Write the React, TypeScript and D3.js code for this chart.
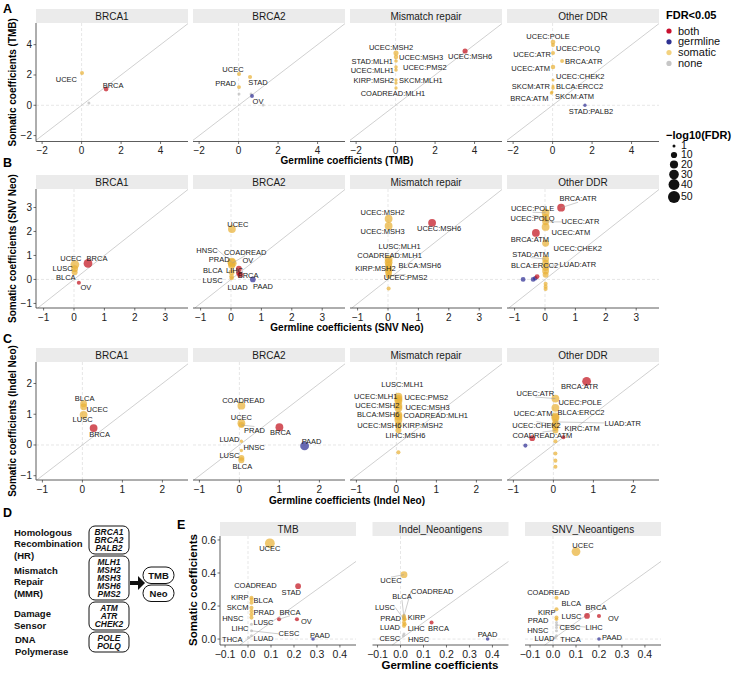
import React from 'react'
import * as d3 from 'd3'

// label, germline coefficient, somatic coefficient, -log10(FDR), FDR<0.05 class
type Sig = 'b' | 'g' | 's' | 'n'
type Pt = [string, number, number, number, Sig]

// ---------------- data ----------------
const facetNames = ['BRCA1', 'BRCA2', 'Mismatch repair', 'Other DDR']
const eNames = ['TMB', 'Indel_Neoantigens', 'SNV_Neoantigens']

const tmbBRCA1: Pt[] = [
  ['', 0.37, 0.15, 1, 'n'],
  ['UCEC', 0.02, 2.13, 3, 's'],
  ['BRCA', 1.24, 1.07, 5, 'b']
]
const tmbBRCA2: Pt[] = [
  ['', 0.02, 0.74, 1, 'n'],
  ['', 0.63, 0.74, 1, 'n'],
  ['', 1.24, 0.02, 1, 'n'],
  ['UCEC', 0.02, 2.06, 3, 's'],
  ['STAD', 0.58, 1.87, 3, 's'],
  ['PRAD', 0.02, 1.2, 2.5, 's'],
  ['OV', 0.68, 0.61, 2.5, 'g']
]
const tmbMMR: Pt[] = [
  ['UCEC:MSH2', 0.02, 3.45, 6, 's'],
  ['UCEC:MSH3', 0.02, 3.18, 4, 's'],
  ['STAD:MLH1', 0.02, 2.92, 2, 's'],
  ['UCEC:PMS2', 0.02, 2.52, 2, 's'],
  ['UCEC:MLH1', 0.02, 2.33, 2, 's'],
  ['KIRP:MSH2', 0.02, 1.67, 1.5, 's'],
  ['SKCM:MLH1', 0.02, 1.47, 1.5, 's'],
  ['COADREAD:MLH1', 0.02, 1.14, 1.5, 's'],
  ['UCEC:MSH6', 3.52, 3.58, 6, 'b']
]
const tmbOther: Pt[] = [
  ['UCEC:POLE', 0.02, 4.17, 5, 's'],
  ['UCEC:POLQ', 0.02, 3.97, 3, 's'],
  ['UCEC:ATR', 0.02, 3.45, 3, 's'],
  ['BRCA:ATR', 0.48, 2.92, 2.5, 's'],
  ['UCEC:ATM', 0.02, 2.52, 4, 's'],
  ['UCEC:CHEK2', 0.02, 1.67, 1, 's'],
  ['SKCM:ATR', 0.02, 1.27, 1, 's'],
  ['BLCA:ERCC2', 0.02, 1.14, 2, 's'],
  ['SKCM:ATM', -0.03, 0.88, 1, 's'],
  ['BRCA:ATM', -0.06, 0.81, 1.5, 's'],
  ['STAD:PALB2', 1.64, 0.0, 1.5, 'g']
]

const snvBRCA1: Pt[] = [
  ['UCEC', 0.03, 0.62, 24, 's'],
  ['BRCA', 0.46, 0.67, 24, 'b'],
  ['LUSC', 0.02, 0.45, 13, 's'],
  ['BLCA', 0.02, 0.3, 9, 's'],
  ['OV', 0.16, -0.14, 3, 'b']
]
const snvBRCA2: Pt[] = [
  ['UCEC', 0.03, 2.1, 18, 's'],
  ['HNSC', 0.02, 0.73, 20, 's'],
  ['COADREAD', 0.04, 0.68, 24, 's'],
  ['PRAD', 0.02, 0.58, 13, 's'],
  ['OV', 0.26, 0.45, 8, 'b'],
  ['BLCA', 0.02, 0.3, 9, 's'],
  ['LIHC', 0.25, 0.25, 5, 'b'],
  ['BRCA', 0.3, 0.2, 8, 'b'],
  ['LUSC', 0.02, 0.12, 5, 's'],
  ['LUAD', 0.02, 0.05, 3, 's'],
  ['PAAD', 0.72, 0.0, 8, 'g']
]
const snvMMR: Pt[] = [
  ['UCEC:MSH2', 0.02, 2.53, 18, 's'],
  ['UCEC:MSH3', 0.02, 2.23, 18, 's'],
  ['UCEC:MSH6', 1.45, 2.36, 18, 'b'],
  ['LUSC:MLH1', 0.02, 0.85, 18, 's'],
  ['COADREAD:MLH1', 0.02, 0.72, 18, 's'],
  ['BLCA:MSH6', 0.02, 0.6, 13, 's'],
  ['KIRP:MSH2', 0.02, 0.48, 13, 's'],
  ['', 0.02, 0.38, 13, 's'],
  ['', 0.02, 0.28, 13, 's'],
  ['UCEC:PMS2', 0.02, 0.15, 9, 's'],
  ['', 0.02, -0.38, 3, 's']
]
const snvOther: Pt[] = [
  ['BRCA:ATR', 0.53, 2.99, 18, 'b'],
  ['UCEC:POLE', 0.02, 2.78, 18, 's'],
  ['UCEC:POLQ', 0.02, 2.57, 18, 's'],
  ['UCEC:ATR', 0.02, 2.4, 13, 's'],
  ['UCEC:ATM', 0.02, 2.19, 18, 's'],
  ['BRCA:ATM', -0.3, 1.94, 18, 'b'],
  ['UCEC:CHEK2', 0.02, 1.51, 13, 's'],
  ['STAD:ATM', 0.02, 0.85, 13, 's'],
  ['BLCA:ERCC2', 0.02, 0.68, 13, 's'],
  ['LUAD:ATR', 0.02, 0.5, 13, 's'],
  ['', 0.02, 0.35, 13, 's'],
  ['', 0.02, 0.2, 9, 's'],
  ['', -0.72, 0.0, 5, 'g'],
  ['', -0.39, 0.0, 5, 'g'],
  ['', -0.32, 0.05, 4, 'g'],
  ['', -0.26, 0.12, 5, 'b'],
  ['', 0.02, -0.18, 3, 's'],
  ['', 0.02, -0.3, 3, 's'],
  ['', 0.02, -0.4, 3, 's']
]

const indelBRCA1: Pt[] = [
  ['BLCA', 0.03, 1.34, 13, 's'],
  ['UCEC', 0.03, 1.24, 13, 's'],
  ['LUSC', 0.03, 0.98, 18, 's'],
  ['BRCA', 0.28, 0.55, 18, 'b']
]
const indelBRCA2: Pt[] = [
  ['COADREAD', 0.05, 1.28, 18, 's'],
  ['UCEC', 0.05, 0.71, 18, 's'],
  ['PRAD', 0.05, 0.65, 9, 's'],
  ['BRCA', 1.0, 0.58, 18, 'b'],
  ['LUAD', 0.05, 0.12, 1.5, 's'],
  ['HNSC', 0.05, -0.18, 1.5, 's'],
  ['PAAD', 1.63, -0.03, 24, 'g'],
  ['LUSC', 0.05, -0.42, 9, 's'],
  ['BLCA', 0.05, -0.5, 9, 's']
]
const indelMMR: Pt[] = [
  ['LUSC:MLH1', 0.05, 1.57, 18, 's'],
  ['UCEC:MLH1', 0.05, 1.5, 18, 's'],
  ['UCEC:PMS2', 0.05, 1.43, 18, 's'],
  ['UCEC:MSH2', 0.05, 1.28, 18, 's'],
  ['UCEC:MSH3', 0.05, 1.2, 18, 's'],
  ['BLCA:MSH6', 0.05, 0.98, 18, 's'],
  ['COADREAD:MLH1', 0.05, 0.92, 18, 's'],
  ['UCEC:MSH6', 0.05, 0.82, 18, 's'],
  ['KIRP:MSH2', 0.05, 0.65, 13, 's'],
  ['LIHC:MSH6', 0.05, 0.48, 9, 's'],
  ['', 0.05, -0.24, 3, 's']
]
const indelOther: Pt[] = [
  ['BRCA:ATR', 0.83, 2.07, 24, 'b'],
  ['UCEC:ATR', 0.05, 1.51, 18, 's'],
  ['UCEC:POLE', 0.05, 1.21, 18, 's'],
  ['BLCA:ERCC2', 0.05, 0.93, 18, 's'],
  ['UCEC:ATM', 0.05, 0.88, 18, 's'],
  ['LUAD:ATR', 0.05, 0.75, 9, 's'],
  ['UCEC:CHEK2', 0.05, 0.65, 18, 's'],
  ['KIRC:ATM', 0.05, 0.55, 9, 's'],
  ['COADREAD:ATM', 0.05, 0.47, 9, 's'],
  ['', -0.53, 0.22, 8, 'b'],
  ['', 0.25, 0.25, 3, 'b'],
  ['', -0.7, -0.02, 3, 'g'],
  ['', 0.05, 0.12, 3, 's'],
  ['', 0.05, -0.28, 3, 's'],
  ['', 0.05, -0.51, 3, 's'],
  ['', 0.05, -0.71, 3, 's']
]

const eTMB: Pt[] = [
  ['UCEC', 0.095, 0.58, 31, 's'],
  ['STAD', 0.218, 0.32, 8, 'b'],
  ['COADREAD', 0.015, 0.25, 3, 's'],
  ['KIRP', 0.015, 0.24, 3, 's'],
  ['BLCA', 0.015, 0.22, 3, 's'],
  ['SKCM', 0.015, 0.19, 3, 's'],
  ['PRAD', 0.015, 0.17, 3, 's'],
  ['HNSC', 0.015, 0.15, 3, 's'],
  ['LUSC', 0.015, 0.13, 3, 's'],
  ['LIHC', 0.015, 0.09, 1, 'n'],
  ['CESC', 0.015, 0.05, 1, 'n'],
  ['THCA', 0.002, 0.01, 1, 'n'],
  ['LUAD', 0.015, 0.02, 1, 'n'],
  ['BRCA', 0.135, 0.12, 3, 'b'],
  ['OV', 0.213, 0.12, 3, 'b'],
  ['PAAD', 0.283, 0.0, 2, 'g']
]
const eIndel: Pt[] = [
  ['UCEC', 0.015, 0.39, 13, 's'],
  ['COADREAD', 0.015, 0.14, 3, 's'],
  ['BLCA', 0.015, 0.13, 3, 's'],
  ['LUSC', 0.015, 0.12, 3, 's'],
  ['KIRP', 0.018, 0.12, 3, 's'],
  ['PRAD', 0.015, 0.1, 3, 's'],
  ['LIHC', 0.018, 0.09, 3, 's'],
  ['LUAD', 0.015, 0.08, 3, 's'],
  ['HNSC', 0.015, 0.03, 1, 'n'],
  ['CESC', 0.012, 0.02, 1, 'n'],
  ['BRCA', 0.135, 0.1, 3, 'b'],
  ['PAAD', 0.379, 0.0, 2, 'g']
]
const eSNV: Pt[] = [
  ['UCEC', 0.1, 0.53, 24, 's'],
  ['COADREAD', 0.015, 0.25, 3, 's'],
  ['BLCA', 0.015, 0.18, 3, 's'],
  ['KIRP', 0.015, 0.13, 3, 's'],
  ['LUSC', 0.015, 0.12, 2, 's'],
  ['PRAD', 0.015, 0.1, 1, 'n'],
  ['LIHC', 0.015, 0.085, 1, 'n'],
  ['CESC', 0.015, 0.07, 1, 'n'],
  ['HNSC', 0.015, 0.05, 1, 'n'],
  ['LUAD', 0.015, 0.02, 1, 'n'],
  ['THCA', 0.01, 0.01, 1, 'n'],
  ['BRCA', 0.148, 0.14, 8, 'b'],
  ['OV', 0.2, 0.14, 3, 'b'],
  ['PAAD', 0.2, 0.0, 2, 'g']
]

const sigKeys: Sig[] = ['b', 'g', 's', 'n']
const sigNames = ['both', 'germline', 'somatic', 'none']
const sizeBreaks = [1, 10, 20, 30, 40, 50]

const dGroups = [
  { name: ['Homologous', 'Recombination', '(HR)'], genes: ['BRCA1', 'BRCA2', 'PALB2'] },
  { name: ['Mismatch', 'Repair', '(MMR)'], genes: ['MLH1', 'MSH2', 'MSH3', 'MSH6', 'PMS2'] },
  { name: ['Damage', 'Sensor'], genes: ['ATM', 'ATR', 'CHEK2'] },
  { name: ['DNA', 'Polymerase'], genes: ['POLE', 'POLQ'] }
]

// ---------------- label placement (ggrepel result, px offsets) ----------------
type Nudge = [number, number, 's' | 'm' | 'e']
const nudge: Record<string, Nudge> = {
  'A1|UCEC': [-5, 6, 'e'], 'A1|BRCA': [7, -4, 'm'],
  'A2|UCEC': [-6, -5, 'm'], 'A2|STAD': [8, 5, 'm'], 'A2|PRAD': [-3, -4, 'e'], 'A2|OV': [6, 5, 'm'],
  'A3|UCEC:MSH2': [-5, -6, 'm'], 'A3|UCEC:MSH3': [3, 0, 's'], 'A3|STAD:MLH1': [-3, 0, 'e'],
  'A3|UCEC:MSH6': [5, 5, 'm'], 'A3|UCEC:MLH1': [-2, 0, 'e'], 'A3|UCEC:PMS2': [7, 0, 's'],
  'A3|KIRP:MSH2': [-2, 0, 'e'], 'A3|SKCM:MLH1': [3, -3, 's'], 'A3|COADREAD:MLH1': [-3, 5, 'm'],
  'A4|UCEC:POLE': [-5, -6, 'm'], 'A4|UCEC:POLQ': [3, 3, 's'], 'A4|UCEC:ATR': [-2, 1, 'e'],
  'A4|BRCA:ATR': [3, 0, 's'], 'A4|UCEC:ATM': [-3, 1, 'e'], 'A4|UCEC:CHEK2': [3, -4, 's'],
  'A4|SKCM:ATR': [-3, 0, 'e'], 'A4|BLCA:ERCC2': [3, -2, 's'], 'A4|SKCM:ATM': [3, 4, 's'],
  'A4|BRCA:ATM': [-3, 5, 'e'], 'A4|STAD:PALB2': [6, 6, 'm'],
  'B1|UCEC': [-4, -6, 'm'], 'B1|BRCA': [9, -5, 'm'], 'B1|LUSC': [-2, 0, 'e'], 'B1|BLCA': [1, 5, 'e'], 'B1|OV': [7, 5, 'm'],
  'B2|UCEC': [6, -5, 'm'], 'B2|HNSC': [-14, -12, 'e'], 'B2|COADREAD': [13, -11, 'm'], 'B2|PRAD': [-2, -6, 'e'],
  'B2|OV': [9, -8, 'm'], 'B2|BLCA': [-9, -2, 'e'], 'B2|LIHC': [-4, -3, 'm'], 'B2|BRCA': [8, 1, 'm'],
  'B2|LUSC': [-9, 4, 'e'], 'B2|LUAD': [6, 9, 'm'], 'B2|PAAD': [10, 7, 'm'],
  'B3|UCEC:MSH2': [-6, -6, 'm'], 'B3|UCEC:MSH3': [-6, 5, 'm'], 'B3|UCEC:MSH6': [7, 6, 'm'],
  'B3|LUSC:MLH1': [11, -13, 'm'], 'B3|COADREAD:MLH1': [1, -7, 'm'], 'B3|BLCA:MSH6': [10, 0, 's'],
  'B3|KIRP:MSH2': [7, 0, 'e'], 'B3|UCEC:PMS2': [17, 2, 'm'],
  'B4|BRCA:ATR': [17, -9, 'm'], 'B4|UCEC:POLE': [-13, -4, 'm'], 'B4|UCEC:POLQ': [-13, 1, 'm'],
  'B4|UCEC:ATR': [16, 0, 's'], 'B4|UCEC:ATM': [6, 5, 's'], 'B4|BRCA:ATM': [-6, 6, 'm'],
  'B4|UCEC:CHEK2': [8, 5, 's'], 'B4|STAD:ATM': [-15, -5, 'm'], 'B4|BLCA:ERCC2': [-11, 2, 'm'], 'B4|LUAD:ATR': [14, -3, 's'],
  'C1|BLCA': [1, -5, 'm'], 'C1|UCEC': [3, 3, 's'], 'C1|LUSC': [-1, 5, 'm'], 'C1|BRCA': [6, 6, 'm'],
  'C2|COADREAD': [2, -5, 'm'], 'C2|UCEC': [0, -6, 'm'], 'C2|PRAD': [13, 5, 'm'], 'C2|BRCA': [1, 5, 'm'],
  'C2|LUAD': [-2, -2, 'e'], 'C2|HNSC': [2, -3, 's'], 'C2|PAAD': [7, -5, 'm'], 'C2|LUSC': [-2, -3, 'e'], 'C2|BLCA': [1, 6, 'm'],
  'C3|LUSC:MLH1': [4, -12, 'm'], 'C3|UCEC:MLH1': [-1, -3, 'e'], 'C3|UCEC:PMS2': [6, -4, 's'],
  'C3|UCEC:MSH2': [1, 0, 'e'], 'C3|UCEC:MSH3': [7, -1, 's'], 'C3|BLCA:MSH6': [1, 0, 'e'],
  'C3|COADREAD:MLH1': [5, -1, 's'], 'C3|UCEC:MSH6': [3, 6, 'e'], 'C3|KIRP:MSH2': [4, 0, 's'], 'C3|LIHC:MSH6': [7, 5, 'm'],
  'C4|BRCA:ATR': [-7, 5, 'm'], 'C4|UCEC:ATR': [-20, -5, 'm'], 'C4|UCEC:POLE': [3, -5, 's'],
  'C4|BLCA:ERCC2': [2, -4, 's'], 'C4|UCEC:ATM': [-3, -5, 'e'], 'C4|LUAD:ATR': [49, 1, 's'],
  'C4|UCEC:CHEK2': [-19, 0, 'm'], 'C4|KIRC:ATM': [9, 0, 's'], 'C4|COADREAD:ATM': [-13, 5, 'm'],
  'E1|UCEC': [0, 5, 'm'], 'E1|STAD': [-7, 6, 'm'], 'E1|COADREAD': [4, -12, 'm'], 'E1|KIRP': [-3, -2, 'e'],
  'E1|BLCA': [2, -2, 's'], 'E1|SKCM': [-3, 0, 'e'], 'E1|PRAD': [2, 1, 's'], 'E1|HNSC': [-8, 4, 'e'],
  'E1|LUSC': [2, 5, 's'], 'E1|LIHC': [-3, 4, 'e'], 'E1|CESC': [27, 3, 's'], 'E1|THCA': [-6, 2, 'e'],
  'E1|LUAD': [2, 3, 's'], 'E1|BRCA': [11, -7, 'm'], 'E1|OV': [4, 2, 's'], 'E1|PAAD': [7, -4, 'm'],
  'E2|UCEC': [-13, 6, 'm'], 'E2|COADREAD': [7, -25, 's'], 'E2|BLCA': [-2, -21, 'm'], 'E2|LUSC': [-9, -12, 'e'],
  'E2|KIRP': [3, -2, 's'], 'E2|PRAD': [-3, -4, 'e'], 'E2|LIHC': [3, 4, 's'], 'E2|LUAD': [-4, 2, 'e'],
  'E2|HNSC': [4, 5, 's'], 'E2|CESC': [-3, 3, 'e'], 'E2|BRCA': [7, 6, 'm'], 'E2|PAAD': [0, -5, 'm'],
  'E3|UCEC': [7, -6, 'm'], 'E3|COADREAD': [-8, -5, 'm'], 'E3|BLCA': [5, -6, 's'], 'E3|KIRP': [-1, -5, 'e'],
  'E3|LUSC': [5, -3, 's'], 'E3|PRAD': [-8, -2, 'e'], 'E3|LIHC': [29, 2, 's'], 'E3|CESC': [3, 0, 's'],
  'E3|HNSC': [-8, 0, 'e'], 'E3|LUAD': [-2, 3, 'e'], 'E3|THCA': [5, 2, 's'], 'E3|BRCA': [9, -9, 'm'],
  'E3|OV': [9, 2, 's'], 'E3|PAAD': [3, -2, 's']
}

// ---------------- styling ----------------
const FONT = '"Liberation Sans", Arial, Helvetica, sans-serif'
const colour: Record<Sig, string> = { b: '#c2141f', g: '#2f2f94', s: '#e9b138', n: '#bdbdbd' }
const legendColour: Record<Sig, string> = { b: '#c8102e', g: '#2e3192', s: '#f3d27f', n: '#c6c6c6' }
const size = d3.scalePow().exponent(0.5).domain([1, 50]).range([1.5, 6])
const STRIP = 14
const anchorOf = { s: 'start', m: 'middle', e: 'end' } as const

const Facet = ({ pk, x0, top, w, h, xd, yd, xt, yt, data, name, yAxis, fmt, tickSize }: any) => {
  const x = d3.scaleLinear().domain(xd).range([x0, x0 + w])
  const y = d3.scaleLinear().domain(yd).range([top + h, top])
  const lo = Math.max(xd[0], yd[0])
  const hi = Math.min(xd[1], yd[1])
  const pts: Pt[] = [...data].sort((a: Pt, b: Pt) => (a[4] === 'n' ? 0 : 1) - (b[4] === 'n' ? 0 : 1))
  const bottom = top + h
  return (
    <g>
      <rect x={x0} y={top - STRIP} width={w} height={STRIP} fill='#ebebeb' />
      <text x={x0 + w / 2} y={top - STRIP / 2} dy='0.35em' textAnchor='middle' fontSize={10} fill='#1a1a1a'>
        {name}
      </text>
      <line x1={x(0)} x2={x(0)} y1={top} y2={bottom} stroke='#dcdcdc' strokeWidth={0.7} strokeDasharray='3,2' />
      <line x1={x0} x2={x0 + w} y1={y(0)} y2={y(0)} stroke='#dcdcdc' strokeWidth={0.7} strokeDasharray='3,2' />
      <line x1={x(lo)} y1={y(lo)} x2={x(hi)} y2={y(hi)} stroke='#c4c4c4' strokeWidth={0.8} />
      {/* x axis */}
      <line x1={x0} x2={x0 + w} y1={bottom} y2={bottom} stroke='#333' strokeWidth={0.8} />
      {xt.map((t: number) => (
        <g key={'x' + t}>
          <line x1={x(t)} x2={x(t)} y1={bottom} y2={bottom + 2.5} stroke='#333' strokeWidth={0.7} />
          <text x={x(t)} y={bottom + 4 + tickSize * 0.5} dy='0.35em' textAnchor='middle' fontSize={tickSize} fill='#222'>
            {fmt(t)}
          </text>
        </g>
      ))}
      {yAxis && (
        <g>
          <line x1={x0} x2={x0} y1={top} y2={bottom} stroke='#333' strokeWidth={0.8} />
          {yt.map((t: number) => (
            <g key={'y' + t}>
              <line x1={x0 - 2.5} x2={x0} y1={y(t)} y2={y(t)} stroke='#333' strokeWidth={0.7} />
              <text x={x0 - 4} y={y(t)} dy='0.35em' textAnchor='end' fontSize={tickSize} fill='#222'>
                {fmt(t)}
              </text>
            </g>
          ))}
        </g>
      )}
      {pts.map((d, i) => (
        <circle key={'p' + i} cx={x(d[1])} cy={y(d[2])} r={size(d[3])} fill={colour[d[4]]} fillOpacity={0.72} />
      ))}
      {pts.filter(d => d[0] && nudge[pk + '|' + d[0]]).map((d, i) => {
        const [dx, dy, a] = nudge[pk + '|' + d[0]]
        const px = x(d[1])
        const py = y(d[2])
        const far = Math.hypot(dx, dy) > 13
        const ey = a === 'm' ? py + dy + (dy < 0 ? 3.5 : -3.5) : py + dy
        return (
          <g key={'l' + i}>
            {far && <line x1={px} y1={py} x2={px + dx} y2={ey} stroke='#9a9a9a' strokeWidth={0.5} />}
            <text x={px + dx} y={py + dy} dy='0.35em' textAnchor={anchorOf[a]} fontSize={7.5} fill='#1a1a1a'>
              {d[0]}
            </text>
          </g>
        )
      })}
    </g>
  )
}

const rows = [
  { id: 'A', letterY: 13, top: 23, h: 118.5, xd: [-2.31, 5.39], yd: [-2.39, 5.43], xt: [-2, 0, 2, 4], yt: [-2, 0, 2, 4],
    data: [tmbBRCA1, tmbBRCA2, tmbMMR, tmbOther], suffix: 'TMB', xTitleY: 160 },
  { id: 'B', letterY: 167, top: 189, h: 119, xd: [-1.25, 3.75], yd: [-1.19, 3.77], xt: [-1, 0, 1, 2, 3], yt: [-1, 0, 1, 2, 3],
    data: [snvBRCA1, snvBRCA2, snvMMR, snvOther], suffix: 'SNV Neo', xTitleY: 327 },
  { id: 'C', letterY: 343, top: 362, h: 118, xd: [-1.16, 2.64], yd: [-1.14, 2.7], xt: [-1, 0, 1, 2], yt: [-1, 0, 1, 2],
    data: [indelBRCA1, indelBRCA2, indelMMR, indelOther], suffix: 'Indel Neo', xTitleY: 500 }
]
const facetLeft = [36, 193, 350, 507]
const facetW = 152
const eLeft = [220, 372.5, 525]
const eW = 136

const PanelD = () => {
  let top = 526
  return (
    <g fontFamily={FONT}>
      {dGroups.map((g, gi) => {
        const bh = g.genes.length * 8 + 4
        const t = top
        top += bh + 2
        const cy = t + bh / 2 + 4
        return (
          <g key={gi}>
            {g.name.map((n, i) => (
              <text key={n} x={gi === 3 ? 15 : 14} y={cy + (i - (g.name.length - 1) / 2) * 11.8} dy='0.35em'
                fontSize={9.5} fontWeight='bold' fill='#111'>
                {n}
              </text>
            ))}
            <rect x={89} y={t} width={40} height={bh} rx={6} fill='white' stroke='#111' strokeWidth={1} />
            {g.genes.map((gn, i) => (
              <text key={gn} x={109} y={t + 2 + 8 * (i + 0.5)} dy='0.33em' textAnchor='middle' fontSize={8.4}
                fontWeight='bold' fontStyle='italic' fill='#111'>
                {gn}
              </text>
            ))}
          </g>
        )
      })}
      <line x1={130} x2={139} y1={583} y2={583} stroke='#111' strokeWidth={4} />
      <path d='M138,576 L145,583 L138,590 Z' fill='#111' />
      {['TMB', 'Neo'].map((s, i) => (
        <g key={s}>
          <rect x={143} y={567 + i * 18} width={31} height={16.5} rx={8} fill='white' stroke='#111' strokeWidth={1} />
          <text x={158.5} y={575.5 + i * 18} dy='0.35em' textAnchor='middle' fontSize={9.5} fontWeight='bold' fill='#111'>
            {s}
          </text>
        </g>
      ))}
    </g>
  )
}

const Legend = () => {
  const sy = [146, 155, 164.5, 174.5, 184.5, 197]
  return (
    <g fontFamily={FONT}>
      <text x={666} y={15} dy='0.35em' fontSize={11} fontWeight='bold'>FDR&lt;0.05</text>
      {sigKeys.map((k, i) => (
        <g key={k}>
          <circle cx={669} cy={31 + i * 10.8} r={2.6} fill={legendColour[k]} />
          <text x={678} y={31 + i * 10.8} dy='0.33em' fontSize={11} fill='#111'>{sigNames[i]}</text>
        </g>
      ))}
      <text x={666} y={135} dy='0.35em' fontSize={11} fontWeight='bold'>−log10(FDR)</text>
      {sizeBreaks.map((b, i) => (
        <g key={b}>
          <circle cx={674} cy={sy[i]} r={size(b)} fill='#111' />
          <text x={681} y={sy[i]} dy='0.33em' fontSize={10.5} fill='#111'>{b}</text>
        </g>
      ))}
    </g>
  )
}

export default function App() {
  const intFmt = d3.format('d')
  const decFmt = d3.format('.1f')
  return (
    <div style={{ position: 'absolute', left: 0, top: 0, width: 739, height: 677 }}>
      <svg width={739} height={677} style={{ display: 'block' }} fontFamily={FONT}>
        <rect width={739} height={677} fill='white' />
        {rows.map(r => (
          <g key={r.id}>
            {r.data.map((d, i) => (
              <Facet key={i} pk={r.id + (i + 1)} x0={facetLeft[i]} top={r.top} w={facetW} h={r.h} xd={r.xd} yd={r.yd}
                xt={r.xt} yt={r.yt} data={d} name={facetNames[i]} yAxis={i === 0} fmt={intFmt} tickSize={10} />
            ))}
            <text transform={`translate(12,${r.top + r.h / 2}) rotate(-90)`} textAnchor='middle' fontSize={10}
              fontWeight='bold' dy='0.35em'>
              Somatic coefficients ({r.suffix})
            </text>
            <text x={347} y={r.xTitleY} dy='0.35em' textAnchor='middle' fontSize={10} fontWeight='bold'>
              Germline coefficients ({r.suffix})
            </text>
          </g>
        ))}
        <PanelD />
        {[eTMB, eIndel, eSNV].map((d, i) => (
          <Facet key={'e' + i} pk={'E' + (i + 1)} x0={eLeft[i]} top={536} w={eW} h={109} xd={[-0.122, 0.47]}
            yd={[-0.036, 0.624]} xt={[-0.1, 0, 0.1, 0.2, 0.3, 0.4]} yt={[0, 0.2, 0.4, 0.6]} data={d}
            name={eNames[i]} yAxis={i === 0} fmt={decFmt} tickSize={10.5} />
        ))}
        <text transform='translate(193,590) rotate(-90)' textAnchor='middle' fontSize={11.5} fontWeight='bold' dy='0.35em'>
          Somatic coefficients
        </text>
        <text x={440} y={665} dy='0.35em' textAnchor='middle' fontSize={11.5} fontWeight='bold'>
          Germline coefficients
        </text>
        <Legend />
        {rows.map(r => (
          <text key={'L' + r.id} x={3} y={r.letterY} fontSize={12.5} fontWeight='bold' fill='#000'>{r.id}</text>
        ))}
        <text x={3} y={517} fontSize={12.5} fontWeight='bold' fill='#000'>D</text>
        <text x={177} y={529} fontSize={12.5} fontWeight='bold' fill='#000'>E</text>
      </svg>
    </div>
  )
}
